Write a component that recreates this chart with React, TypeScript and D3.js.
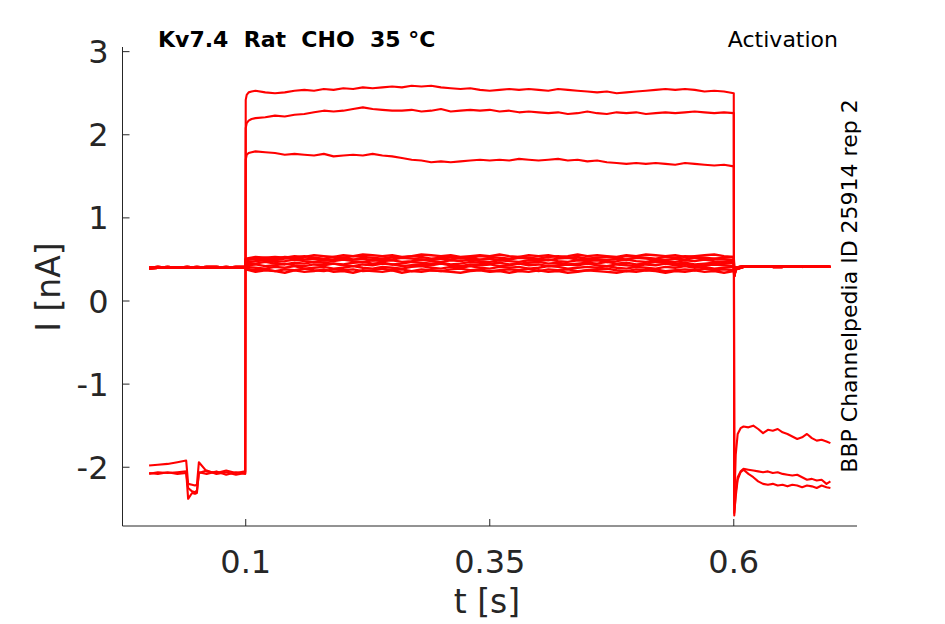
import * as d3 from 'd3'

// sample times (s)
const bigPreT = [0.001, 0.01, 0.02, 0.03, 0.039, 0.041, 0.045, 0.048, 0.05, 0.052, 0.06, 0.07, 0.08, 0.09, 0.0995]
const bigStepT = [
  0.1, 0.101, 0.103, 0.106,
  0.11, 0.12, 0.13, 0.14, 0.15, 0.16, 0.17, 0.18, 0.19, 0.2,
  0.21, 0.22, 0.23, 0.24, 0.25, 0.26, 0.27, 0.28, 0.29, 0.3,
  0.31, 0.32, 0.33, 0.34, 0.35, 0.36, 0.37, 0.38, 0.39, 0.4,
  0.41, 0.42, 0.43, 0.44, 0.45, 0.46, 0.47, 0.48, 0.49, 0.5,
  0.51, 0.52, 0.53, 0.54, 0.55, 0.56, 0.57, 0.58, 0.59,
  0.6,
]
const bigPostT = [0.6005, 0.602, 0.604, 0.607, 0.61, 0.615, 0.62, 0.625, 0.63, 0.635, 0.64, 0.645, 0.65, 0.655, 0.66, 0.665, 0.67, 0.675, 0.68, 0.685, 0.69, 0.695, 0.699]

const smallPreT = [0.001, 0.01, 0.02, 0.03, 0.04, 0.05, 0.06, 0.07, 0.08, 0.09, 0.0995]
const smallStepT = [
  0.1, 0.11, 0.12, 0.13, 0.14, 0.15, 0.16, 0.17, 0.18, 0.19,
  0.2, 0.21, 0.22, 0.23, 0.24, 0.25, 0.26, 0.27, 0.28, 0.29,
  0.3, 0.31, 0.32, 0.33, 0.34, 0.35, 0.36, 0.37, 0.38, 0.39,
  0.4, 0.41, 0.42, 0.43, 0.44, 0.45, 0.46, 0.47, 0.48, 0.49,
  0.5, 0.51, 0.52, 0.53, 0.54, 0.55, 0.56, 0.57, 0.58, 0.59,
  0.6,
]
const smallPostT = [0.6005, 0.602, 0.61, 0.62, 0.63, 0.64, 0.65, 0.66, 0.67, 0.68, 0.69, 0.699]

// large-current sweeps (nA)
const preA = [-2.08, -2.06, -2.07, -2.06, -2.05, -2.38, -2.31, -2.32, -2.31, -2.06, -2.08, -2.05, -2.09, -2.06, -2.08]
const preB = [-1.98, -1.97, -1.96, -1.94, -1.92, -2.2, -2.21, -2.22, -2.21, -1.94, -2.05, -2.07, -2.04, -2.07, -2.05]
const preC = [-2.07, -2.08, -2.06, -2.08, -2.07, -2.25, -2.29, -2.3, -2.28, -2.07, -2.04, -2.08, -2.06, -2.09, -2.07]

const stepA = [
  2.42, 2.48, 2.51, 2.52,
  2.53, 2.51, 2.5, 2.51, 2.53, 2.54, 2.53, 2.55, 2.54, 2.56,
  2.55, 2.57, 2.56, 2.57, 2.58, 2.57, 2.59, 2.58, 2.59, 2.57,
  2.56, 2.55, 2.56, 2.54, 2.53, 2.54, 2.55, 2.54, 2.55, 2.54,
  2.53, 2.55, 2.54, 2.53, 2.52, 2.51, 2.52, 2.5, 2.51, 2.52,
  2.53, 2.54, 2.55, 2.54, 2.55, 2.54, 2.52, 2.53, 2.52,
  2.5,
]
const stepB = [
  2.08, 2.14, 2.17, 2.19,
  2.2, 2.21, 2.23, 2.22, 2.24, 2.25, 2.27, 2.29, 2.28, 2.29,
  2.31, 2.33, 2.31, 2.3, 2.29, 2.29, 2.3, 2.28, 2.29, 2.31,
  2.28, 2.29, 2.3, 2.29, 2.3, 2.28, 2.29, 2.27, 2.28, 2.27,
  2.26, 2.27, 2.25, 2.26, 2.28, 2.26, 2.25, 2.27, 2.26, 2.27,
  2.25, 2.26, 2.27, 2.26, 2.27, 2.28, 2.27, 2.26, 2.27,
  2.26,
]
const stepC = [
  1.7, 1.76, 1.78, 1.79,
  1.8, 1.79, 1.78, 1.76, 1.77, 1.76, 1.75, 1.77, 1.74, 1.75,
  1.76, 1.75, 1.77, 1.75, 1.74, 1.72, 1.7, 1.69, 1.67, 1.68,
  1.67, 1.68, 1.69, 1.7, 1.69, 1.7, 1.69, 1.71, 1.7, 1.69,
  1.7, 1.71, 1.69, 1.7, 1.68, 1.69, 1.67, 1.66, 1.65, 1.66,
  1.65, 1.66, 1.65, 1.64, 1.66, 1.65, 1.64, 1.63, 1.64,
  1.62,
]

const postA = [-2.58, -2.3, -2.12, -2.05, -2.02, -2.03, -2.04, -2.05, -2.06, -2.05, -2.07, -2.06, -2.08, -2.09, -2.1, -2.09, -2.12, -2.15, -2.14, -2.16, -2.15, -2.2, -2.17]
const postB = [-2.55, -2.35, -2.15, -2.06, -2.03, -2.08, -2.12, -2.17, -2.2, -2.21, -2.2, -2.22, -2.21, -2.23, -2.21, -2.22, -2.24, -2.22, -2.23, -2.25, -2.22, -2.24, -2.25]
const postC = [-2.45, -1.85, -1.6, -1.53, -1.51, -1.52, -1.5, -1.54, -1.59, -1.55, -1.56, -1.54, -1.58, -1.6, -1.63, -1.66, -1.64, -1.6, -1.65, -1.68, -1.67, -1.69, -1.71]

// small-current sweeps (nA)
const holdPre1 = [0.4, 0.41, 0.4, 0.4, 0.41, 0.4, 0.41, 0.41, 0.4, 0.41, 0.41]
const holdPre2 = [0.39, 0.4, 0.41, 0.4, 0.4, 0.41, 0.4, 0.4, 0.41, 0.4, 0.4]
const holdPost1 = [0.3, 0.38, 0.41, 0.42, 0.41, 0.42, 0.42, 0.41, 0.42, 0.41, 0.42, 0.41]
const holdPost2 = [0.34, 0.4, 0.42, 0.41, 0.42, 0.41, 0.41, 0.42, 0.41, 0.42, 0.42, 0.41]

const small1 = [
  0.39, 0.37, 0.38, 0.36, 0.38, 0.37, 0.39, 0.37, 0.36, 0.38,
  0.37, 0.38, 0.36, 0.37, 0.39, 0.37, 0.38, 0.36, 0.38, 0.37,
  0.36, 0.38, 0.39, 0.37, 0.38, 0.36, 0.37, 0.38, 0.37, 0.39,
  0.36, 0.38, 0.37, 0.38, 0.36, 0.37, 0.38, 0.39, 0.37, 0.36,
  0.38, 0.37, 0.38, 0.36, 0.37, 0.38, 0.37, 0.39, 0.37, 0.38,
  0.37,
]
const small2 = [
  0.41, 0.4, 0.39, 0.41, 0.4, 0.42, 0.39, 0.4, 0.41, 0.39,
  0.4, 0.42, 0.4, 0.39, 0.41, 0.4, 0.39, 0.41, 0.42, 0.4,
  0.39, 0.41, 0.4, 0.42, 0.4, 0.39, 0.41, 0.4, 0.41, 0.39,
  0.4, 0.42, 0.41, 0.39, 0.4, 0.41, 0.4, 0.42, 0.4, 0.39,
  0.41, 0.4, 0.39, 0.41, 0.4, 0.42, 0.4, 0.41, 0.39, 0.4,
  0.41,
]
const small3 = [
  0.43, 0.44, 0.42, 0.43, 0.45, 0.43, 0.42, 0.44, 0.43, 0.45,
  0.43, 0.42, 0.44, 0.43, 0.45, 0.44, 0.42, 0.43, 0.44, 0.43,
  0.45, 0.43, 0.42, 0.44, 0.43, 0.44, 0.42, 0.43, 0.45, 0.43,
  0.44, 0.42, 0.43, 0.44, 0.43, 0.45, 0.43, 0.42, 0.44, 0.43,
  0.42, 0.44, 0.43, 0.45, 0.43, 0.44, 0.42, 0.43, 0.44, 0.43,
  0.42,
]
const small4 = [
  0.46, 0.45, 0.47, 0.45, 0.44, 0.46, 0.45, 0.47, 0.46, 0.45,
  0.44, 0.46, 0.47, 0.45, 0.46, 0.44, 0.45, 0.47, 0.46, 0.45,
  0.46, 0.44, 0.45, 0.47, 0.46, 0.45, 0.46, 0.44, 0.45, 0.46,
  0.47, 0.45, 0.46, 0.44, 0.45, 0.46, 0.45, 0.47, 0.45, 0.46,
  0.44, 0.45, 0.47, 0.46, 0.45, 0.46, 0.44, 0.45, 0.46, 0.45,
  0.46,
]
const small5 = [
  0.47, 0.48, 0.49, 0.47, 0.48, 0.5, 0.48, 0.47, 0.49, 0.48,
  0.5, 0.48, 0.47, 0.49, 0.48, 0.49, 0.47, 0.48, 0.5, 0.48,
  0.47, 0.49, 0.48, 0.5, 0.48, 0.47, 0.49, 0.48, 0.47, 0.49,
  0.48, 0.5, 0.48, 0.47, 0.49, 0.48, 0.49, 0.47, 0.48, 0.5,
  0.48, 0.47, 0.49, 0.48, 0.47, 0.49, 0.48, 0.5, 0.48, 0.47,
  0.48,
]
const small6 = [
  0.49, 0.51, 0.5, 0.49, 0.51, 0.52, 0.5, 0.51, 0.49, 0.5,
  0.52, 0.5, 0.51, 0.49, 0.51, 0.5, 0.52, 0.51, 0.5, 0.49,
  0.51, 0.5, 0.52, 0.51, 0.5, 0.51, 0.49, 0.5, 0.52, 0.51,
  0.5, 0.49, 0.51, 0.52, 0.5, 0.51, 0.5, 0.49, 0.51, 0.5,
  0.52, 0.51, 0.5, 0.49, 0.51, 0.5, 0.52, 0.5, 0.51, 0.5,
  0.49,
]
const small7 = [
  0.5, 0.51, 0.52, 0.53, 0.52, 0.54, 0.53, 0.55, 0.54, 0.53,
  0.55, 0.54, 0.56, 0.55, 0.54, 0.55, 0.53, 0.54, 0.56, 0.55,
  0.54, 0.55, 0.53, 0.54, 0.55, 0.54, 0.56, 0.54, 0.53, 0.55,
  0.54, 0.55, 0.53, 0.54, 0.56, 0.54, 0.55, 0.54, 0.53, 0.55,
  0.54, 0.56, 0.55, 0.54, 0.55, 0.53, 0.54, 0.55, 0.56, 0.54,
  0.53,
]
const small8 = [
  0.38, 0.35, 0.37, 0.36, 0.34, 0.37, 0.35, 0.36, 0.38, 0.35,
  0.36, 0.34, 0.37, 0.36, 0.35, 0.37, 0.34, 0.36, 0.35, 0.37,
  0.36, 0.35, 0.34, 0.36, 0.37, 0.35, 0.36, 0.34, 0.36, 0.35,
  0.37, 0.35, 0.36, 0.34, 0.35, 0.37, 0.36, 0.35, 0.34, 0.36,
  0.35, 0.37, 0.36, 0.34, 0.36, 0.35, 0.37, 0.35, 0.36, 0.34,
  0.36,
]
const small9 = [
  0.51, 0.53, 0.52, 0.51, 0.53, 0.52, 0.54, 0.52, 0.51, 0.53,
  0.52, 0.54, 0.53, 0.52, 0.51, 0.53, 0.52, 0.54, 0.53, 0.51,
  0.52, 0.53, 0.51, 0.52, 0.54, 0.53, 0.52, 0.51, 0.53, 0.52,
  0.51, 0.53, 0.54, 0.52, 0.53, 0.51, 0.52, 0.53, 0.52, 0.54,
  0.53, 0.52, 0.51, 0.53, 0.52, 0.54, 0.53, 0.52, 0.51, 0.52,
  0.53,
]

const xTicks = [0.1, 0.35, 0.6]
const yTicks = [-2, -1, 0, 1, 2, 3]

type Pt = [number, number]

function zip(ts: number[], vs: number[]): Pt[] {
  const n = Math.min(ts.length, vs.length)
  const out: Pt[] = []
  for (let i = 0; i < n; i++) out.push([ts[i], vs[i]])
  return out
}

const bigSweeps = [
  [preA, stepA, postA],
  [preB, stepB, postB],
  [preC, stepC, postC],
]
const smallSweeps = [
  [holdPre1, small1, holdPost1],
  [holdPre2, small2, holdPost2],
  [holdPre1, small3, holdPost2],
  [holdPre2, small4, holdPost1],
  [holdPre1, small5, holdPost1],
  [holdPre2, small6, holdPost2],
  [holdPre1, small7, holdPost1],
  [holdPre2, small8, holdPost2],
  [holdPre1, small9, holdPost1],
]

const W = 945
const H = 624
const FONT = '"DejaVu Sans", sans-serif'
const INK = '#262626'

export default function App() {
  const x = d3.scaleLinear().domain([-0.02625, 0.72625]).range([122.5, 857])
  const y = d3.scaleLinear().domain([-2.707, 3.056]).range([526, 47])

  const line = d3
    .line<Pt>()
    .x((d) => x(d[0]))
    .y((d) => y(d[1]))

  const smallPaths = smallSweeps.map(([a, b, c]) => [
    ...zip(smallPreT, a),
    ...zip(smallStepT, b),
    ...zip(smallPostT, c),
  ])
  const bigPaths = bigSweeps.map(([a, b, c]) => [...zip(bigPreT, a), ...zip(bigStepT, b), ...zip(bigPostT, c)])

  const [x0, x1] = x.range()
  const [y0, y1] = y.range()

  return (
    <svg
      width={W}
      height={H}
      style={{ position: 'absolute', left: 0, top: 0, background: '#fff' }}
      fontFamily={FONT}
    >
      <rect width={W} height={H} fill="#fff" />

      {/* traces */}
      <g fill="none" stroke="#ff0000" strokeLinejoin="round">
        {smallPaths.map((t, i) => (
          <path key={'s' + i} d={line(t) ?? ''} strokeWidth={2.4} />
        ))}
        {bigPaths.map((t, i) => (
          <path key={'b' + i} d={line(t) ?? ''} strokeWidth={2.1} />
        ))}
      </g>

      {/* axes */}
      <g stroke={INK} strokeWidth={1} fill="none">
        <line x1={x0} x2={x0} y1={y1} y2={y0} />
        <line x1={x0} x2={x1} y1={y0} y2={y0} />
        {yTicks.map((v) => (
          <line key={v} x1={x0} x2={x0 + 7} y1={y(v)} y2={y(v)} />
        ))}
        {xTicks.map((v) => (
          <line key={v} x1={x(v)} x2={x(v)} y1={y0} y2={y0 - 7} />
        ))}
      </g>

      <g fill={INK} fontSize={32}>
        {yTicks.map((v) => (
          <text key={v} x={x0 - 14} y={y(v)} dy="0.36em" textAnchor="end">
            {String(v)}
          </text>
        ))}
        {xTicks.map((v) => (
          <text key={v} x={x(v)} y={573} textAnchor="middle">
            {String(v)}
          </text>
        ))}
      </g>

      <text x={487} y={613} textAnchor="middle" fill={INK} fontSize={33}>
        t [s]
      </text>
      <text
        transform={`translate(60, 287) rotate(-90)`}
        textAnchor="middle"
        fill={INK}
        fontSize={33}
      >
        I [nA]
      </text>

      <text x={158} y={47} fontSize={22} fontWeight="bold" fill="#000">
        Kv7.4{'\u00a0\u00a0'}Rat{'\u00a0\u00a0'}CHO{'\u00a0\u00a0'}35 °C
      </text>
      <text x={838} y={47} fontSize={22} textAnchor="end" fill="#000">
        Activation
      </text>
      <text
        transform={`translate(857, 286) rotate(-90)`}
        textAnchor="middle"
        fontSize={22}
        fill="#000"
      >
        BBP Channelpedia ID 25914 rep 2
      </text>
    </svg>
  )
}
